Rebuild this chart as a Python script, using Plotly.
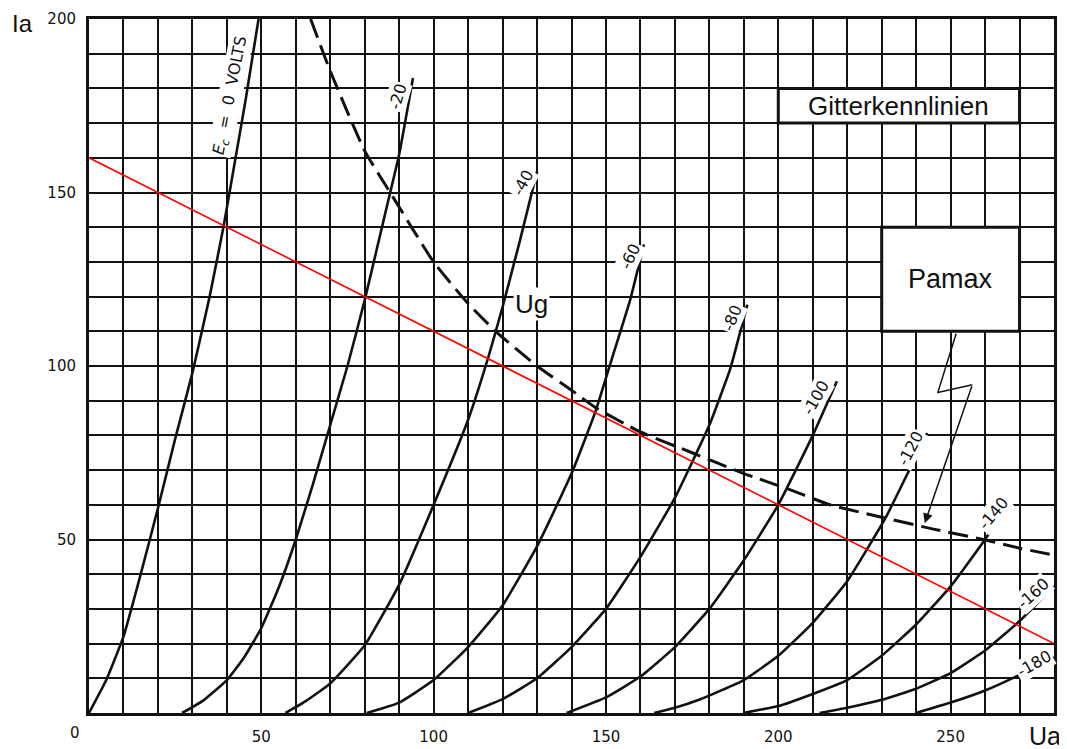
import plotly.graph_objects as go

# Gitterkennlinien einer Triode: Anodenstrom Ia (mA) ueber Anodenspannung Ua (V)
ua_0 = [0, 5, 10, 15, 20, 25, 30, 35, 39, 42, 45.5, 49.2]
ia_0 = [0, 9.5, 22, 40, 59, 79, 98, 120, 140, 157, 177, 200]

ua_20 = [27, 33, 40, 45, 50, 55, 60, 65, 70, 75, 80, 85, 90, 94]
ia_20 = [0, 3.5, 9.5, 16, 24.5, 36, 50, 66, 83, 100, 119, 140, 161, 183]

ua_40 = [57, 63, 70, 80, 90, 100, 110, 116, 120, 125, 130]
ia_40 = [0, 3.5, 8.5, 19.5, 37, 60, 84.5, 103, 117, 136, 156]

ua_60 = [80.6, 90, 100, 110, 120, 130, 140, 147, 152, 157, 161]
ia_60 = [0, 3, 9.5, 19, 31, 48, 69, 87, 103, 119, 135]

ua_80 = [110, 120, 130, 140, 150, 160, 170, 180, 186, 191]
ia_80 = [0, 4, 10, 19, 30, 45, 62, 83, 99, 117.7]

ua_100 = [138.6, 150, 160, 170, 180, 190, 200, 210, 217]
ia_100 = [0, 4.5, 10.5, 19, 30, 44, 60, 80, 95.6]

ua_120 = [164, 170, 177, 190, 200, 210, 220, 231, 238, 243.2]
ia_120 = [0, 1.5, 3.8, 9.5, 16.5, 26, 38, 56, 70, 80.7]

ua_140 = [189.8, 200, 210, 220, 230, 240, 250, 260, 266.5]
ia_140 = [0, 2, 5.5, 9.5, 16.5, 25.5, 36.5, 50, 59.7]

ua_160 = [212, 220, 230, 240, 250, 260, 270, 280]
ia_160 = [0, 1.5, 3.8, 7, 11.5, 18, 26.5, 36.5]

ua_180 = [240, 250, 260, 270, 280]
ia_180 = [0, 3, 6.5, 11, 16]

# Grenzlinie der maximalen Anodenverlustleistung (gestrichelt)
ua_pamax = [64.3, 70, 80, 88, 100, 110, 118, 130, 140, 147, 160, 175, 190, 203, 215,
            231, 245, 259.4, 270, 280]
ia_pamax = [200, 185, 162, 149, 130, 118, 110, 100, 93, 88, 81, 75, 69, 64.5, 60,
            56.2, 53, 50, 47.5, 45.5]

# Arbeitsgerade (rot)
ua_load = [0, 280]
ia_load = [160, 20]

x_ticks = [50, 100, 150, 200, 250]
y_ticks = [50, 100, 150, 200]

curves = [
    (ua_0, ia_0), (ua_20, ia_20), (ua_40, ia_40), (ua_60, ia_60), (ua_80, ia_80),
    (ua_100, ia_100), (ua_120, ia_120), (ua_140, ia_140), (ua_160, ia_160),
    (ua_180, ia_180),
]

INK = '#111111'
FONT = 'Liberation Sans, Arial, sans-serif'
TECH = 'DejaVu Sans, Verdana, sans-serif'
NB = '\u00a0'

fig = go.Figure()

for ua, ia in curves:
    fig.add_trace(go.Scatter(
        x=ua, y=ia, mode='lines',
        line=dict(color=INK, width=2.6, shape='spline', smoothing=0.4),
        showlegend=False, hoverinfo='skip'
    ))

fig.add_trace(go.Scatter(
    x=ua_pamax, y=ia_pamax, mode='lines',
    line=dict(color=INK, width=3, dash='20px,8px', shape='spline', smoothing=0.5),
    showlegend=False, hoverinfo='skip'
))

fig.add_trace(go.Scatter(
    x=ua_load, y=ia_load, mode='lines',
    line=dict(color='#ff0000', width=1.6),
    showlegend=False, hoverinfo='skip'
))

# Blitzpfeil von der Pamax-Box zur Grenzlinie
fig.add_trace(go.Scatter(
    x=[251.6, 246.3, 256.3], y=[109.3, 92.4, 94.6], mode='lines',
    line=dict(color=INK, width=1.5),
    showlegend=False, hoverinfo='skip'
))
fig.add_annotation(
    x=242.5, y=54.7, ax=256.3, ay=94.6, xref='x', yref='y', axref='x', ayref='y',
    text='', showarrow=True, arrowhead=2, arrowsize=1.3, arrowwidth=1.5, arrowcolor=INK
)

# Textkaesten
fig.add_shape(type='rect', x0=200, x1=270, y0=170, y1=180,
              fillcolor='white', line=dict(color=INK, width=3), layer='above')
fig.add_shape(type='rect', x0=230, x1=270, y0=110, y1=140,
              fillcolor='white', line=dict(color=INK, width=3), layer='above')
fig.add_annotation(x=235, y=175, text='Gitterkennlinien', showarrow=False,
                   font=dict(family=FONT, size=26, color=INK))
fig.add_annotation(x=250, y=125, text='Pamax', showarrow=False,
                   font=dict(family=FONT, size=27, color=INK))
fig.add_annotation(x=128.5, y=118, text='Ug', showarrow=False, bgcolor='white',
                   font=dict(family=FONT, size=26, color=INK))

# Beschriftung der Kennlinien
curve_labels = [
    ('<i>E<sub>c</sub></i>' + NB * 2 + '=' + NB * 2 + '0' + NB * 2 + 'VOLTS', 41.0, 178, -79),
    ('-20', 89.5, 177.8, -74),
    ('-40', 126.0, 152.8, -62),
    ('-60', 157.0, 131.6, -65),
    ('-80', 186.5, 113.8, -68),
    ('-100', 211.0, 90.8, -60),
    ('-120', 238.3, 76.3, -62),
    ('-140', 262.3, 57.6, -50),
    ('-160', 273.9, 34.5, -42),
    ('-180', 274.3, 14.3, -30),
]
for txt, x, y, ang in curve_labels:
    fig.add_annotation(x=x, y=y, text=txt, textangle=ang, showarrow=False,
                       bgcolor='white', borderpad=1,
                       font=dict(family=TECH, size=16, color=INK))

# Achsenbeschriftungen
fig.add_annotation(x=-0.069, y=0.993, xref='paper', yref='paper', text='Ia',
                   showarrow=False, xanchor='center', yanchor='middle',
                   font=dict(family=FONT, size=24, color=INK))
fig.add_annotation(x=0.991, y=-0.033, xref='paper', yref='paper', text='Ua',
                   showarrow=False, xanchor='center', yanchor='middle',
                   font=dict(family=FONT, size=25, color=INK))
fig.add_annotation(x=-0.015, y=-0.029, xref='paper', yref='paper', text='0',
                   showarrow=False, xanchor='center', yanchor='middle',
                   font=dict(family=TECH, size=15, color=INK))

grid = dict(showgrid=True, gridcolor=INK, gridwidth=2)

# die Seite setzt 8 px Rand, daher etwas kleinere Figur
fig.update_layout(
    width=1059, height=741,
    margin=dict(l=81, r=13, t=11, b=36, autoexpand=False),
    paper_bgcolor='white', plot_bgcolor='white',
    font=dict(family=TECH, color=INK, size=15),
    xaxis=dict(range=[0, 280], tickvals=x_ticks, **grid,
               minor=dict(dtick=10, tick0=0, **grid),
               showline=True, linecolor=INK, linewidth=3, mirror=True,
               zeroline=False, ticks='', ticklabelstandoff=8, automargin=False,
               tickfont=dict(family=TECH, size=15)),
    yaxis=dict(range=[0, 200], tickvals=y_ticks, **grid,
               minor=dict(dtick=10, tick0=0, **grid),
               showline=True, linecolor=INK, linewidth=3, mirror=True,
               zeroline=False, ticks='', ticklabelstandoff=7, automargin=False,
               tickfont=dict(family=TECH, size=15)),
)

fig.write_html('out.html')
